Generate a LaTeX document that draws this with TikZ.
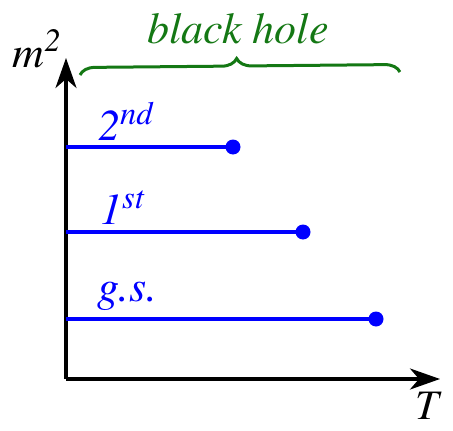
\documentclass[tikz,border=0pt]{standalone}
\usepackage[T1]{fontenc}
\usepackage{mathptmx}
\usepackage{tikz}
\usetikzlibrary{arrows.meta, positioning, decorations.pathreplacing}
\definecolor{myblue}{RGB}{0,0,255}
\definecolor{mygreen}{RGB}{20,120,20}

\tikzset{
  axis/.style={line width=3.2pt, -{Stealth[length=30pt, width=21pt, inset=9pt]}},
  level/.style={line width=3.5pt, myblue},
  enddot/.style={circle, fill=myblue, inner sep=0pt, minimum size=15pt},
  lvllabel/.style={anchor=base west, inner sep=0pt, text=myblue, font=\fontsize{44}{44}\selectfont\itshape}
}

\begin{document}
\begin{tikzpicture}[x=1pt, y=-1pt]
  \useasboundingbox (0,0) rectangle (453,431);
  % axes
  \coordinate (o) at (66,379);
  \coordinate (ytip) at (66,58);
  \coordinate (xtip) at (440,379);
  \draw[axis] (o) -- (ytip);
  \draw[axis] (o) -- (xtip);
  \node[anchor=base, inner sep=0pt, font=\fontsize{44}{44}\selectfont\itshape] (mlab) at (37,67) {m\textsuperscript{2}};
  \node[anchor=base, inner sep=0pt, font=\fontsize{42}{42}\selectfont\itshape] (tlab) at (427,419) {T};

  % levels
  \node[enddot] (d2) at (233,147) {};
  \node[enddot] (d1) at (303,232) {};
  \node[enddot] (d0) at (376,319) {};
  \coordinate (s2) at (66,147);
  \coordinate (s1) at (66,232);
  \coordinate (s0) at (66,319);
  \draw[level] (s2) -- (d2.center);
  \draw[level] (s1) -- (d1.center);
  \draw[level] (s0) -- (d0.center);
  \node[lvllabel] (l2) at (98,140) {2\textsuperscript{nd}};
  \node[lvllabel] (l1) at (100,224) {1\textsuperscript{st}};
  \node[lvllabel] (l0) at (97,301) {g.s.};

  % black hole brace
  \coordinate (bl) at (80,75);
  \coordinate (br) at (400,72);
  \draw[mygreen, line width=3pt, decorate, decoration={brace, amplitude=15pt, aspect=0.49}] (bl) -- (br);
  \node[anchor=base, inner sep=0pt, text=mygreen, font=\fontsize{44}{44}\selectfont\itshape] (bh) at (238,43) {black hole};
\end{tikzpicture}
\end{document}
